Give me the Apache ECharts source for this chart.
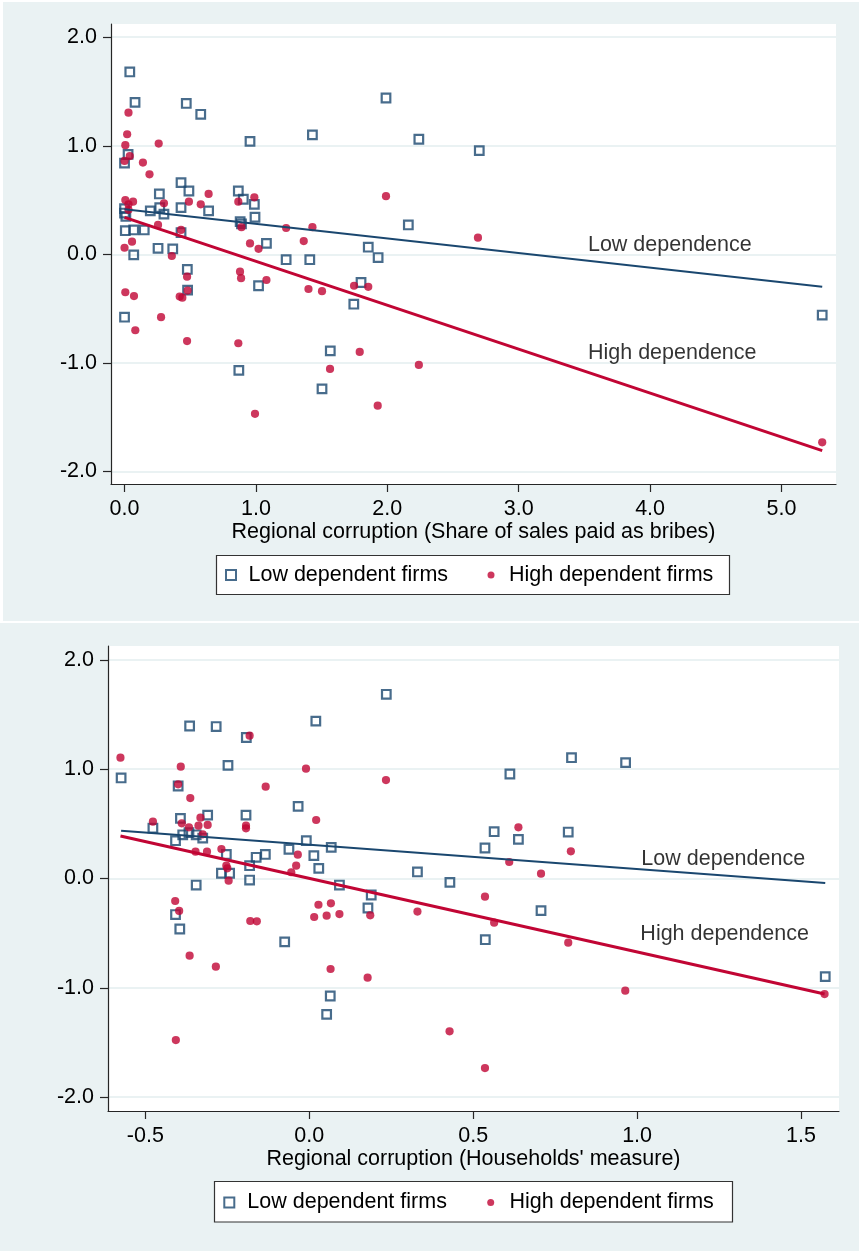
<!DOCTYPE html>
<html>
<head>
<meta charset="utf-8">
<script src="https://cdn.jsdelivr.net/npm/echarts@6/dist/echarts.min.js"></script>
<style>
html,body{margin:0;padding:0;background:#ffffff;}
#chart{width:860px;height:1251px;}
</style>
</head>
<body>
<div id="chart"></div>
<script>
// ---------- data ----------
const seriesNames = ['Low dependent firms', 'High dependent firms'];
const xTitles = ['Regional corruption (Share of sales paid as bribes)', "Regional corruption (Households' measure)"];
const yTicks = [-2, -1, 0, 1, 2];
const xTicksBribes = [0, 1, 2, 3, 4, 5];
const xTicksHouse = [-0.5, 0, 0.5, 1, 1.5];

// Panel 1: Share of sales paid as bribes
const lowBribes = [
  [0.04,1.68],[0.08,1.40],[0.47,1.39],[0.58,1.29],[1.99,1.44],[1.43,1.10],[2.24,1.06],[0.955,1.04],
  [2.70,0.955],[0.027,0.92],[0.0,0.84],[0.43,0.66],[0.265,0.556],[0.49,0.583],[0.866,0.583],[0.904,0.507],
  [0.988,0.46],[0.43,0.43],[0.268,0.43],[0.196,0.40],[0.30,0.37],[0.64,0.40],[0.0,0.42],[0.0,0.38],
  [0.01,0.35],[0.88,0.30],[0.89,0.28],[0.993,0.341],[0.006,0.217],[0.07,0.224],[0.15,0.224],[0.43,0.20],
  [0.255,0.055],[0.367,0.049],[1.08,0.10],[0.07,-0.006],[1.23,-0.05],[1.41,-0.05],[1.855,0.065],[1.93,-0.03],
  [2.16,0.27],[0.478,-0.14],[0.48,-0.33],[1.02,-0.29],[1.80,-0.26],[1.745,-0.46],[0.0,-0.58],[5.31,-0.56],
  [1.566,-0.89],[0.87,-1.07],[1.503,-1.24]
];
const highBribes = [
  [0.03,1.305],[0.02,1.106],[0.006,1.005],[0.26,1.02],[0.04,0.905],[0.0,0.86],[0.14,0.845],[0.19,0.737],
  [0.64,0.556],[0.006,0.50],[0.065,0.485],[0.03,0.46],[0.03,0.41],[0.30,0.47],[0.49,0.485],[0.58,0.46],
  [0.866,0.485],[0.988,0.525],[1.99,0.535],[0.255,0.27],[0.89,0.25],[1.23,0.242],[1.43,0.25],[1.364,0.122],
  [0.43,0.224],[0.057,0.116],[0.0,0.06],[0.955,0.10],[1.02,0.05],[0.36,-0.016],[0.476,-0.206],[0.879,-0.16],
  [0.887,-0.22],[1.08,-0.237],[0.006,-0.35],[0.072,-0.385],[0.42,-0.39],[0.44,-0.40],[0.48,-0.335],[1.40,-0.32],
  [1.503,-0.34],[1.747,-0.29],[1.855,-0.30],[0.278,-0.58],[0.082,-0.70],[0.476,-0.80],[0.866,-0.82],[1.79,-0.90],
  [1.564,-1.057],[2.24,-1.02],[1.927,-1.395],[0.993,-1.47],[2.69,0.153],[5.31,-1.733]
];
const fitLowBribes = [[0, 0.415], [5.31, -0.30]];
const fitHighBribes = [[0, 0.34], [5.31, -1.81]];
const notesBribes = [[3.527, 0.086, 'Low dependence'], [3.527, -0.91, 'High dependence']];

// Panel 2: Households' measure
const lowHouse = [
  [-0.574,0.92],[-0.477,0.46],[-0.40,0.846],[-0.365,1.395],[-0.284,1.39],[-0.192,1.29],[-0.248,1.035],[0.02,1.44],
  [0.235,1.685],[-0.393,0.55],[-0.31,0.58],[-0.193,0.58],[-0.034,0.66],[-0.386,0.40],[-0.408,0.346],[-0.367,0.42],
  [-0.345,0.40],[-0.325,0.37],[-0.253,0.22],[-0.268,0.048],[-0.243,0.048],[-0.345,-0.06],[-0.182,0.117],[-0.162,0.194],
  [-0.134,0.22],[-0.182,-0.014],[-0.062,0.267],[-0.009,0.346],[0.014,0.209],[0.029,0.093],[0.067,0.285],[0.092,-0.06],
  [0.189,-0.151],[0.179,-0.27],[0.33,0.06],[-0.408,-0.33],[-0.395,-0.462],[-0.075,-0.58],[0.064,-1.075],[0.053,-1.243],
  [0.612,0.956],[0.80,1.105],[0.965,1.06],[0.564,0.428],[0.638,0.358],[0.536,0.279],[0.79,0.425],[0.429,-0.035],
  [0.707,-0.294],[0.537,-0.56],[1.574,-0.898]
];
const highHouse = [
  [-0.576,1.105],[-0.392,1.023],[-0.182,1.307],[-0.01,1.005],[-0.40,0.862],[-0.133,0.84],[0.234,0.90],[-0.363,0.736],
  [-0.477,0.52],[-0.389,0.505],[-0.367,0.468],[-0.332,0.556],[-0.338,0.483],[-0.31,0.49],[-0.325,0.404],[-0.193,0.483],
  [-0.193,0.459],[0.021,0.535],[-0.347,0.245],[-0.312,0.245],[-0.268,0.27],[-0.253,0.117],[-0.25,0.093],[-0.246,-0.02],
  [-0.035,0.218],[-0.04,0.117],[-0.055,0.057],[-0.409,-0.206],[-0.397,-0.297],[-0.18,-0.389],[-0.16,-0.392],[0.015,-0.352],
  [0.028,-0.24],[0.053,-0.34],[0.066,-0.227],[0.092,-0.325],[0.186,-0.337],[0.33,-0.303],[-0.365,-0.706],[-0.285,-0.807],
  [0.065,-0.828],[0.178,-0.907],[-0.407,-1.478],[0.79,-0.587],[0.964,-1.026],[1.572,-1.057],[0.428,-1.398],[0.536,-1.734],
  [0.638,0.468],[0.798,0.249],[0.61,0.151],[0.707,0.044],[0.536,-0.166],[0.564,-0.404]
];
const fitLowHouse = [[-0.574, 0.437], [1.574, -0.041]];
const fitHighHouse = [[-0.576, 0.389], [1.572, -1.057]];
const notesHouse = [[1.013, 0.178, 'Low dependence'], [1.01, -0.508, 'High dependence']];

// ---------- styles ----------
const FONT = 'Liberation Sans, Arial, Helvetica, sans-serif';
const FS = 21.5;
const NAVY = '#1a476f';
const RED = '#c10534';
const BG = '#eaf2f3';
const AXIS = '#262626';

function fmt(v) { return v.toFixed(1); }

function xAxisCfg(idx, min, max, ticks, title) {
  return {
    type: 'value', gridIndex: idx, min: min, max: max,
    name: title, nameLocation: 'middle', nameGap: 35,
    nameTextStyle: { fontFamily: FONT, fontSize: FS, color: '#000' },
    axisLine: { show: true, onZero: false, lineStyle: { color: AXIS, width: 1.2 } },
    axisTick: { show: true, length: 8, customValues: ticks, lineStyle: { color: AXIS, width: 1.2 } },
    axisLabel: { customValues: ticks, formatter: fmt, margin: 14, fontFamily: FONT, fontSize: FS, color: '#000' },
    splitLine: { show: false }
  };
}
function yAxisCfg(idx, min, max) {
  return {
    type: 'value', gridIndex: idx, min: min, max: max,
    axisLine: { show: true, onZero: false, lineStyle: { color: AXIS, width: 1.2 } },
    axisTick: { show: true, length: 8, customValues: yTicks, lineStyle: { color: AXIS, width: 1.2 } },
    axisLabel: { customValues: yTicks, formatter: fmt, margin: 14, fontFamily: FONT, fontSize: FS, color: '#000' },
    splitLine: { show: true, lineStyle: { color: BG, width: 2 } }
  };
}
function scatterLow(idx, data) {
  return { type: 'scatter', name: seriesNames[0], xAxisIndex: idx, yAxisIndex: idx, data: data,
    symbol: 'rect', symbolSize: 8.6,
    itemStyle: { color: 'rgba(255,255,255,0)', borderColor: NAVY, borderWidth: 2.2 } };
}
function scatterHigh(idx, data) {
  return { type: 'scatter', name: seriesNames[1], xAxisIndex: idx, yAxisIndex: idx, data: data,
    symbol: 'circle', symbolSize: 8.2, itemStyle: { color: RED, borderWidth: 0 } };
}
function fitLine(idx, data, color, width) {
  return { type: 'line', xAxisIndex: idx, yAxisIndex: idx, data: data, symbol: 'none',
    lineStyle: { color: color, width: width }, silent: true };
}
function notes(idx, data) {
  return { type: 'scatter', xAxisIndex: idx, yAxisIndex: idx, silent: true,
    data: data.map(d => ({ value: [d[0], d[1]], label: { formatter: d[2] } })),
    symbol: 'circle', symbolSize: 0.01, itemStyle: { color: 'rgba(0,0,0,0)' },
    label: { show: true, position: 'right', distance: 0, fontFamily: FONT, fontSize: FS, color: '#000' } };
}
function legendItem(top, left, name, icon, size, padLeft, style) {
  return {
    top: top, left: left, orient: 'horizontal', padding: 0, selectedMode: false,
    data: [{ name: name, icon: icon, itemStyle: style }],
    itemWidth: size, itemHeight: size,
    textStyle: { fontFamily: FONT, fontSize: FS, color: '#000', padding: [0, 0, 0, padLeft] }
  };
}

const option = {
  animation: false,
  backgroundColor: '#ffffff',
  graphic: [
    { type: 'rect', z: -100, shape: { x: 3, y: 2, width: 856, height: 619 }, style: { fill: BG } },
    { type: 'rect', z: -100, shape: { x: 0, y: 623, width: 859, height: 628 }, style: { fill: BG } },
    { type: 'rect', z: 3, shape: { x: 216.5, y: 555.5, width: 513, height: 39 }, style: { fill: '#fff', stroke: '#333', lineWidth: 1.2 } },
    { type: 'rect', z: 3, shape: { x: 214.5, y: 1181.5, width: 518, height: 40.5 }, style: { fill: '#fff', stroke: '#333', lineWidth: 1.2 } }
  ],
  grid: [
    { left: 111, top: 24, width: 725, height: 460, show: true, backgroundColor: '#ffffff', borderWidth: 0 },
    { left: 108, top: 646, width: 731, height: 465, show: true, backgroundColor: '#ffffff', borderWidth: 0 }
  ],
  xAxis: [
    xAxisCfg(0, -0.103, 5.415, xTicksBribes, xTitles[0]),
    xAxisCfg(1, -0.614, 1.616, xTicksHouse, xTitles[1])
  ],
  yAxis: [
    yAxisCfg(0, -2.117, 2.122),
    yAxisCfg(1, -2.127, 2.127)
  ],
  legend: [
    legendItem(564, 225, seriesNames[0], 'rect', 10, 7.5, { color: 'rgba(255,255,255,0)', borderColor: NAVY, borderWidth: 2 }),
    legendItem(564, 487.5, seriesNames[1], 'circle', 7, 9.5, { color: RED, borderWidth: 0 }),
    legendItem(1191.5, 223.3, seriesNames[0], 'rect', 10, 8, { color: 'rgba(255,255,255,0)', borderColor: NAVY, borderWidth: 2 }),
    legendItem(1191.5, 487.2, seriesNames[1], 'circle', 7, 10.3, { color: RED, borderWidth: 0 })
  ],
  series: [
    scatterLow(0, lowBribes), scatterHigh(0, highBribes),
    fitLine(0, fitLowBribes, NAVY, 2), fitLine(0, fitHighBribes, RED, 3),
    notes(0, notesBribes),
    scatterLow(1, lowHouse), scatterHigh(1, highHouse),
    fitLine(1, fitLowHouse, NAVY, 2), fitLine(1, fitHighHouse, RED, 3),
    notes(1, notesHouse)
  ]
};

const chart = echarts.init(document.getElementById('chart'), null, { renderer: 'canvas' });
chart.setOption(option);
</script>
</body>
</html>
